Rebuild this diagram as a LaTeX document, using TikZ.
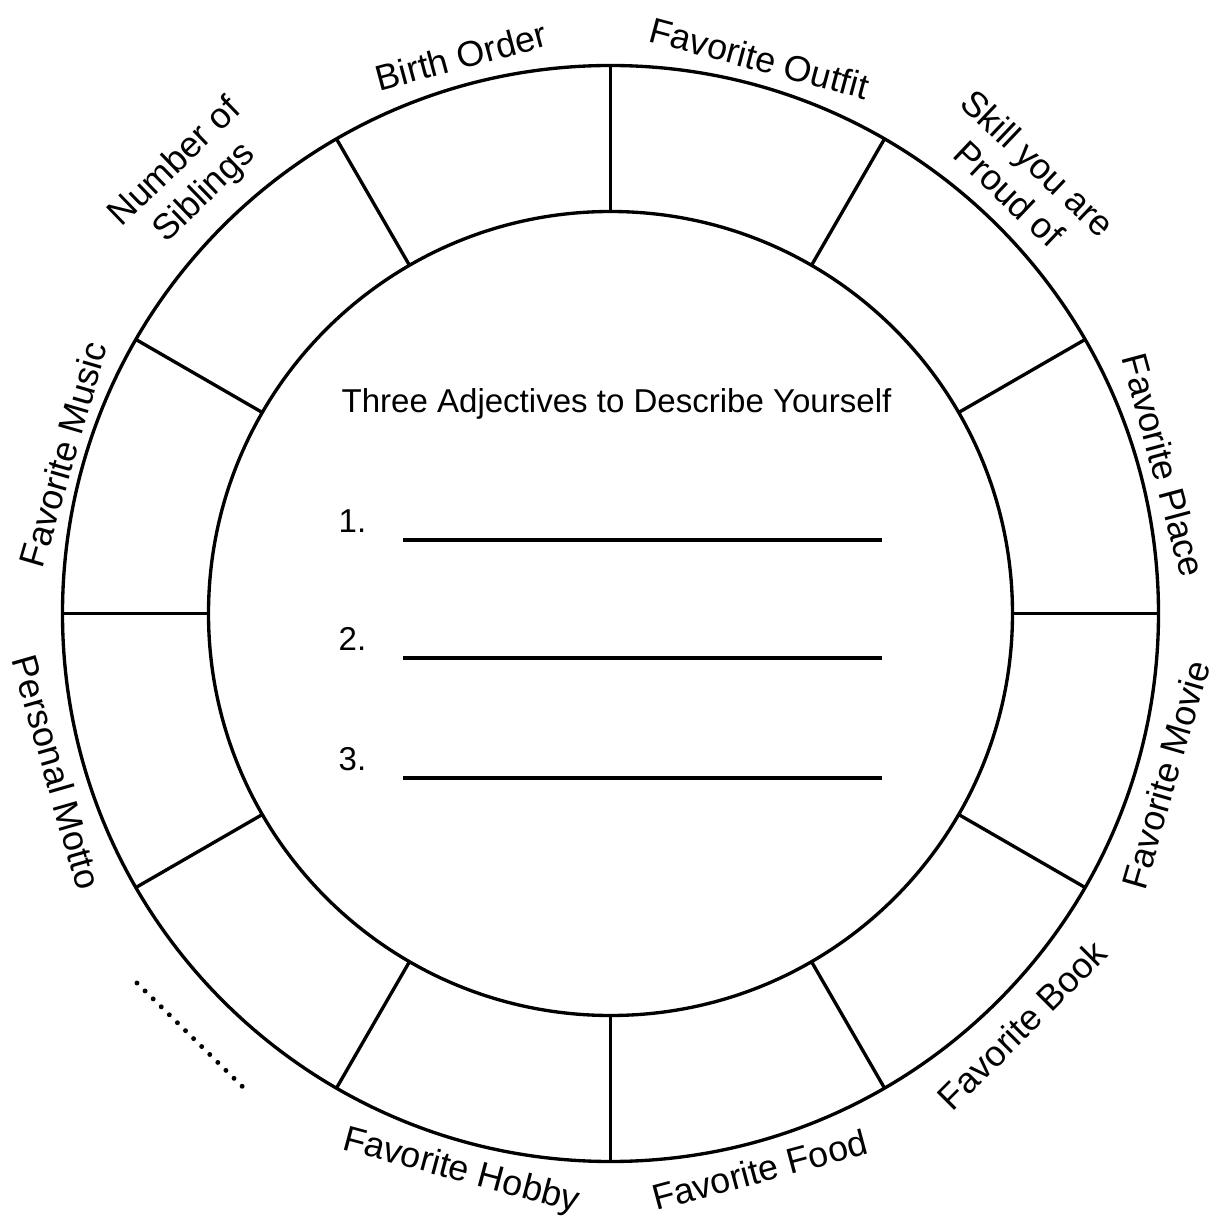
\documentclass[tikz,border=0pt]{standalone}
\usepackage{fontspec}
\setmainfont{Liberation Sans}
\begin{document}
\begin{tikzpicture}[line width=0.95pt,
  every node/.style={inner sep=0pt},
  ringlabel/.style={align=center, font=\fontsize{10.2}{12}\selectfont},
  midtext/.style={font=\fontsize{9.4}{11}\selectfont},
  dotrow/.style={line width=1.4pt, line cap=round, dash pattern=on 0pt off 3.225pt}]
  \useasboundingbox (-6.105,-6.075) rectangle (6.045,6.135);
  \draw (0,0) circle (5.48);
  \draw (0,0) circle (4.02);
  \foreach \ang in {0,30,...,330} \draw (\ang:4.02) -- (\ang:5.48);
  % labels round the ring
  \foreach \ang/\rad/\txt [count=\i] in {75/5.75/Favorite Outfit, 46.5/6.0/{Skill you are\\Proud of},
      15/5.73/Favorite Place, -16.2/5.78/Favorite Movie, -45/5.82/Favorite Book, -75/5.76/Favorite Food,
      -105/5.78/Favorite Hobby, -164.0/5.76/Personal Motto, 163.8/5.70/Favorite Music,
      134/6.05/{Number of\\Siblings}, 105/5.77/Birth Order}
  {
    \pgfmathsetmacro\rot{\ang>0 ? \ang-90 : \ang+90}
    \node[ringlabel, rotate=\rot] (lab\i) at (\ang:\rad) {\txt};
  }
  \coordinate (dotsA) at (-4.735,-3.695);
  \coordinate (dotsB) at (-3.605,-4.805);
  \draw[dotrow] (dotsA) -- (dotsB);
  % the three blanks
  \node[midtext, anchor=base] (title) at (0.06,2.005) {Three Adjectives to Describe Yourself};
  \foreach \i/\y in {1/0.805, 2/-0.375, 3/-1.575}
  {
    \node[midtext, anchor=base west] (num\i) at (-2.735,\y) {\i.};
    \draw (-2.075,\y-0.07) -- (2.715,\y-0.07);
  }
\end{tikzpicture}
\end{document}
